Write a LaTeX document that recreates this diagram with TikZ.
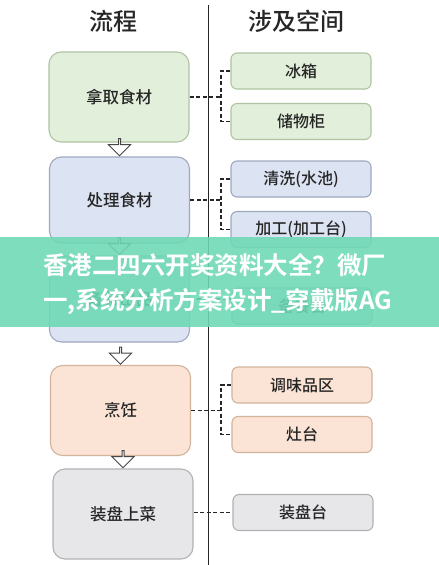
\documentclass[tikz,border=0pt]{standalone}
\usepackage{fontspec}
\setmainfont{Noto Sans CJK SC}[BoldFont={Noto Sans CJK SC Bold}]
\newfontfamily\cjkm{Noto Sans CJK SC Medium}
\usetikzlibrary{shapes.arrows,calc}
\definecolor{gfill}{HTML}{E2EFDA}
\definecolor{gline}{HTML}{AFC4A3}
\definecolor{bfill}{HTML}{DCE3F2}
\definecolor{bline}{HTML}{9EA8BE}
\definecolor{ofill}{HTML}{FBE4D5}
\definecolor{oline}{HTML}{D2B39C}
\definecolor{kfill}{HTML}{E7E7EA}
\definecolor{kline}{HTML}{B2B2B6}
\definecolor{txt}{HTML}{262626}
\definecolor{banner}{HTML}{6CD9B4}
\tikzset{
  mainbox/.style={draw, line width=1.1pt, rounded corners=12pt, minimum width=140pt, minimum height=88pt, inner sep=0pt, font=\cjkm\fontsize{16.5}{18}\selectfont, text=txt},
  sidebox/.style={draw, line width=1.1pt, rounded corners=6pt, minimum width=140pt, minimum height=36pt, inner sep=0pt, font=\cjkm\fontsize{16}{18}\selectfont, text=txt},
  conn/.style={draw=txt, line width=1.7pt, dash pattern=on 4pt off 2.5pt},
  downarrow/.style={draw=txt!85, fill=white, line width=1pt, single arrow, shape border rotate=270, minimum height=17pt, minimum width=22pt, single arrow head extend=5pt, inner sep=0pt, anchor=tip},
  title/.style={font=\cjkm\fontsize{24}{26}\selectfont, text=txt},
  bantext/.style={font=\fontsize{24.5}{26}\selectfont\bfseries, text=white, anchor=west, inner sep=0pt}
}
\begin{document}
\begin{tikzpicture}[x=1pt,y=-1pt]
\useasboundingbox (0,0) rectangle (439,565);
\fill[white] (0,0) rectangle (439,565);

\node[title] (t1) at (113,21) {流程};
\node[title] (t2) at (296,21) {涉及空间};
\coordinate (vtop) at (208,5);
\coordinate (vbot) at (208,565);
\draw[txt, line width=1pt] (vtop) -- (vbot);
\coordinate (barx) at (221,0);

% process boxes
\node[mainbox, fill=gfill, draw=gline, minimum height=90pt] (b1) at (119,97) {拿取食材};
\node[mainbox, fill=bfill, draw=bline, minimum height=86pt] (b2) at (119.5,200) {处理食材};
\node[mainbox, fill=bfill, draw=bline, minimum height=86pt] (b3) at (119.5,299) {备餐出品};
\node[mainbox, fill=ofill, draw=oline, minimum height=90pt] (b4) at (120.5,410.5) {烹饪};
\node[mainbox, fill=kfill, draw=kline, minimum height=90pt] (b5) at (123,514) {装盘上菜};

% side boxes
\node[sidebox, fill=gfill, draw=gline] (r1) at (301,71) {冰箱};
\node[sidebox, fill=gfill, draw=gline] (r2) at (301,121.5) {储物柜};
\node[sidebox, fill=bfill, draw=bline] (r3) at (301,179) {清洗(水池)};
\node[sidebox, fill=bfill, draw=bline] (r4) at (301,229.5) {加工(加工台)};
\node[sidebox, fill=bfill, draw=bline] (r5) at (302,306) {备餐台};
\node[sidebox, fill=ofill, draw=oline] (r6) at (302,385) {调味品区};
\node[sidebox, fill=ofill, draw=oline] (r7) at (302,434.5) {灶台};
\node[sidebox, fill=kfill, draw=kline] (r8) at (303,512.5) {装盘台};

% arrows
\node[downarrow] (a1) at (b2.north) {};
\node[downarrow] (a2) at (b3.north) {};
\node[downarrow] (a3) at (b4.north) {};
\node[downarrow] (a4) at (b5.north) {};

% connectors
\draw[conn] (b1.east) -- (b1.east -| barx);
\draw[conn] (r1.west) -| (barx |- r2.west) -- (r2.west);
\draw[conn] (b2.east) -- (b2.east -| barx);
\draw[conn] (r3.west) -| (barx |- r4.west) -- (r4.west);
\draw[conn] (b3.east) -- (r5.west |- b3.east);
\draw[conn] (b4.east) -- (b4.east -| barx);
\draw[conn] (r6.west) -| (barx |- r7.west) -- (r7.west);
\draw[conn] (b5.east |- r8.west) -- (r8.west);

% banner overlay
\fill[banner, opacity=0.88] (0,237) rectangle (439,327);
\node[bantext] (l1) at (43,265) {香港二四六开奖资料大全？微厂};
\node[bantext] (l2) at (43,302) {一,系统分析方案设计\_穿戴版AG};
\end{tikzpicture}
\end{document}
